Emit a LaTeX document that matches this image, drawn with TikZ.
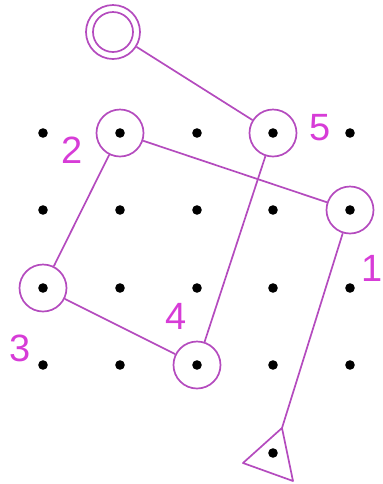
\documentclass[tikz,border=0pt]{standalone}
\usepackage{fontspec}
\setmainfont{Liberation Sans}
\definecolor{lin}{RGB}{180,75,190}
\definecolor{txt}{RGB}{215,60,215}
\begin{document}
\begin{tikzpicture}[x=0.5pt,y=-0.5pt,
  ring/.style={circle,draw=lin,line width=0.85pt,minimum size=23.5pt,inner sep=0pt},
  conn/.style={draw=lin,line width=0.85pt},
  num/.style={text=txt,font=\fontsize{19}{19}\selectfont,inner sep=0pt},
  dotmark/.style={fill=black}]
\useasboundingbox (0,0) rectangle (382,484);
% grid dots
\foreach \x in {43,120,197,273,350}
  \foreach \y in {133,210,288,365}
    \fill[dotmark] (\x,\y) circle (2.4pt);
\fill[dotmark] (273,453) circle (2.4pt);
% rings
\node[ring] (n2) at (120,133) {};
\node[ring] (n5) at (273,133) {};
\node[ring] (n1) at (350,210) {};
\node[ring] (n3) at (43,288) {};
\node[ring] (n4) at (197,365) {};
\node[ring,minimum size=27pt] (st) at (113,32) {};
\draw[lin,line width=0.85pt] (st.center) circle (10pt);
% triangle
\coordinate (tt) at (282,428);
\coordinate (tl) at (243,463);
\coordinate (tr) at (293,481);
\draw[conn,line join=round] (tt) -- (tl) -- (tr) -- cycle;
% connectors
\draw[conn] (st) -- (n5);
\draw[conn] (n5) -- (n4);
\draw[conn] (n2) -- (n1);
\draw[conn] (n2) -- (n3);
\draw[conn] (n3) -- (n4);
\draw[conn] (n1) -- (tt);
% labels
\node[num] (l2) at (72,150) {2};
\node[num] (l5) at (320,128) {5};
\node[num] (l1) at (372,268) {1};
\node[num] (l4) at (176,316) {4};
\node[num] (l3) at (20,348) {3};
\end{tikzpicture}
\end{document}
